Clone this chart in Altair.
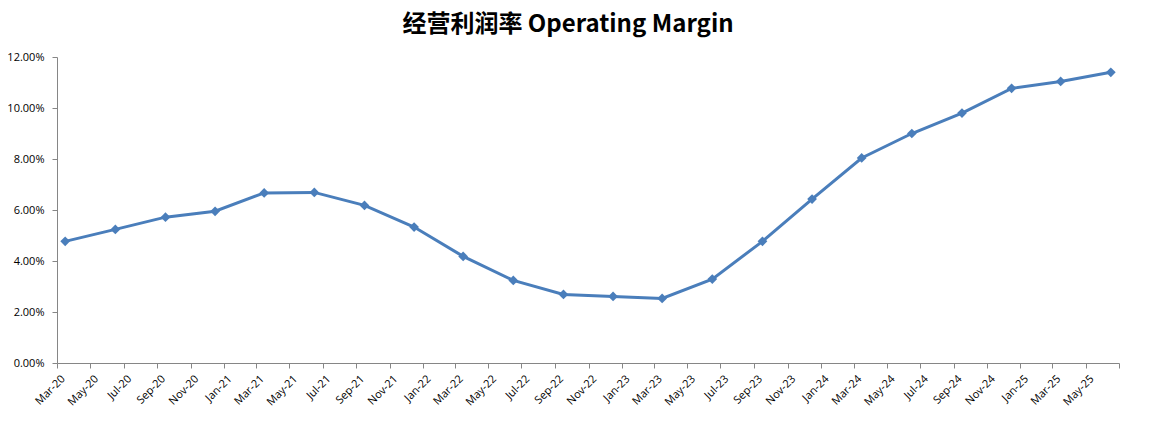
import altair as alt
import pandas as pd

periods = ["Mar-20", "Jun-20", "Sep-20", "Dec-20", "Mar-21", "Jun-21", "Sep-21", "Dec-21",
           "Mar-22", "Jun-22", "Sep-22", "Dec-22", "Mar-23", "Jun-23", "Sep-23", "Dec-23",
           "Mar-24", "Jun-24", "Sep-24", "Dec-24", "Mar-25", "Jun-25"]
margin = [0.0477, 0.0524, 0.0572, 0.0595, 0.0667, 0.0669, 0.0618, 0.0533,
          0.0418, 0.0324, 0.0269, 0.0261, 0.0253, 0.0329, 0.0477, 0.0643,
          0.0804, 0.0900, 0.0980, 0.1077, 0.1104, 0.1140]
y_ticks = [0, 0.02, 0.04, 0.06, 0.08, 0.10, 0.12]

# Excel date axis: each point sits in the middle of its month slot
dates = pd.to_datetime(periods, format="%b-%y") + pd.Timedelta(days=15)
df = pd.DataFrame({"date": dates.strftime("%Y-%m-%dT00:00:00Z"), "margin": margin})

tick_dates = pd.date_range("2020-03-01", "2025-07-01", freq="2MS")
tick_vals = [alt.DateTime(year=d.year, month=d.month, date=1, utc=True) for d in tick_dates]

x = alt.X("date:T",
          scale=alt.Scale(type="utc",
                          domain=[alt.DateTime(year=2020, month=3, date=1, utc=True),
                                  alt.DateTime(year=2025, month=7, date=1, utc=True)]),
          axis=alt.Axis(values=tick_vals, title=None, labelAngle=-45, grid=False,
                        labelExpr="datum.value >= utc(2025,6,1) ? '' : utcFormat(datum.value, '%b-%y')",
                        labelAlign="right", labelBaseline="middle",
                        labelOffset=6, labelPadding=9, labelFlush=False,
                        labelOverlap=False))
y = alt.Y("margin:Q", scale=alt.Scale(domain=[0, 0.12]),
          axis=alt.Axis(values=y_ticks, format=".2%", title=None, grid=False, labelPadding=8))

base = alt.Chart(df).encode(x=x, y=y)
line = base.mark_line(color="#4a7ebb", strokeWidth=3)
pts = base.mark_point(shape="diamond", filled=True, size=95, color="#4a7ebb", opacity=1)

chart = (line + pts).properties(
    width=1062, height=306,
    title=alt.TitleParams("经营利润率 Operating Margin", font="Noto Sans CJK SC",
                          fontSize=24, fontWeight="bold", color="#000000",
                          offset=14, dx=-20),
    autosize=alt.AutoSizeParams(type="none"),
    padding={"left": 49, "top": 49, "right": 22, "bottom": 60},
).configure_view(stroke=None).configure_axis(
    domainColor="#868686", tickColor="#868686", tickSize=5, domainWidth=1,
    labelFont="Open Sans", labelFontSize=11, labelColor="#000000",
)

chart.save("out.html", embed_options={"renderer": "svg", "actions": False})
